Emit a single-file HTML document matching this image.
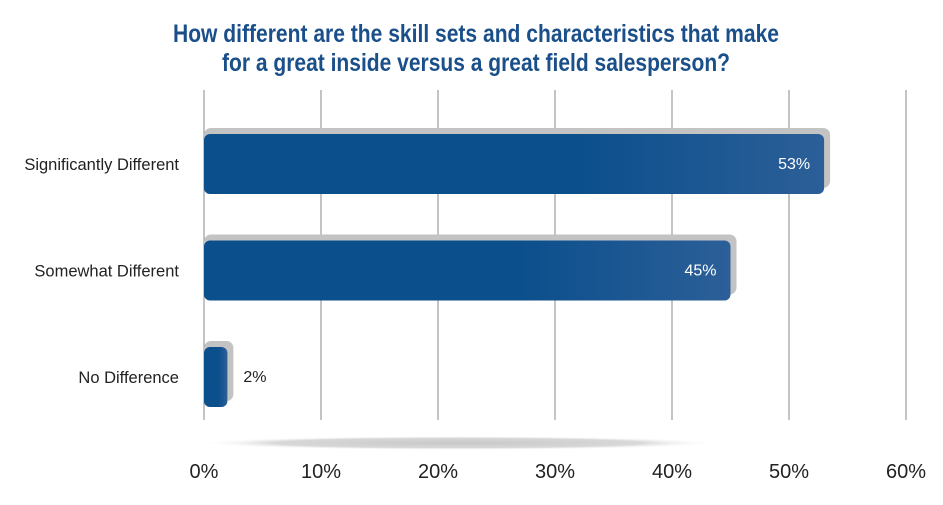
<!DOCTYPE html>
<html><head><meta charset="utf-8"><style>
body{margin:0;background:#fff;}
svg text{font-family:"Liberation Sans",sans-serif;}
</style></head><body>
<svg width="943" height="500" viewBox="0 0 943 500">
<defs>
<linearGradient id="bg" x1="0" x2="1" y1="0" y2="0">
<stop offset="0" stop-color="#0b4f8c"/><stop offset="0.6" stop-color="#0b4f8c"/><stop offset="1" stop-color="#2c5f98"/>
</linearGradient>
<radialGradient id="fs" cx="0.5" cy="0.5" r="0.5">
<stop offset="0" stop-color="#c8c8c8"/><stop offset="0.7" stop-color="#d8d8d8"/><stop offset="1" stop-color="#fff" stop-opacity="0"/>
</radialGradient>
</defs>
<g fill="#1a4f8a" font-weight="bold" font-size="25" text-anchor="middle">
<text x="476" y="42" textLength="606" lengthAdjust="spacingAndGlyphs">How different are the skill sets and characteristics that make</text>
<text x="476" y="71" textLength="508" lengthAdjust="spacingAndGlyphs">for a great inside versus a great field salesperson?</text>
</g>
<ellipse cx="458" cy="443" rx="262" ry="7" fill="url(#fs)"/>
<g id="grid"></g><g id="bars"></g><g id="labels"></g>
</svg>
<script>
const categories=["Significantly Different","Somewhat Different","No Difference"];
const values=[53,45,2];
const ticks=[0,10,20,30,40,50,60];
const tickLabels=["0%","10%","20%","30%","40%","50%","60%"];
const NS="http://www.w3.org/2000/svg";
const x0=204,pxPer=11.7;
function xs(v){return x0+v*pxPer;}
const bandTop=134,bandStep=106.5,barH=60;
function mk(t,a,p){const e=document.createElementNS(NS,t);for(const k in a)e.setAttribute(k,a[k]);p.appendChild(e);return e;}
const grid=document.getElementById('grid'),bars=document.getElementById('bars'),labels=document.getElementById('labels');
ticks.forEach((t,i)=>{
 const l=mk('line',{x1:xs(t),x2:xs(t),y1:90,y2:420,stroke:'#8a8a8a','stroke-width':1},grid);
 
 
 const tx=mk('text',{x:xs(t),y:478,'text-anchor':'middle','font-size':20,fill:'#222'},labels);
 tx.textContent=tickLabels[i];
 
 
});
categories.forEach((c,i)=>{
 const y=bandTop+i*bandStep,w=xs(values[i])-x0;
 const s=mk('rect',{x:x0,y:y-6,width:w+6,height:barH,rx:7,fill:'#c4c3c4'},bars);
 
 
 const b=mk('rect',{x:x0,y:y,width:w,height:barH,rx:6,fill:'url(#bg)'},bars);
 
 
 const cl=mk('text',{x:179,y:y+barH/2+6,'text-anchor':'end','font-size':16.5,fill:'#222'},labels);
 cl.textContent=c;
 
 
 const inside=w>60;
 const vl=mk('text',{x:inside?xs(values[i])-14:xs(values[i])+16,y:y+barH/2+5,'text-anchor':inside?'end':'start','font-size':16,fill:inside?'#fff':'#222'},labels);
 vl.textContent=values[i]+'%';
 
 
});
</script>
</body></html>
